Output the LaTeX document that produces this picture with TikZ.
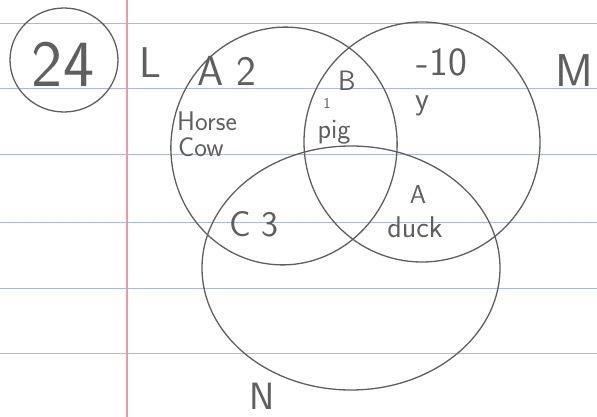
\documentclass[tikz,border=0pt]{standalone}
\usepackage{xcolor}
\usepackage{tikz}
\usetikzlibrary{shapes.geometric}

\definecolor{pencilgray}{RGB}{95,95,95}
\definecolor{ruleblue}{RGB}{170,185,228}
\definecolor{marginred}{RGB}{238,150,170}

\begin{document}
\begin{tikzpicture}[x=1pt, y=-1pt,
pencil/.style={draw=pencilgray, line width=1.3pt},
setring/.style={ellipse, pencil, inner sep=0pt},
hand/.style={text=pencilgray, inner sep=0pt},
]
\useasboundingbox[fill=white] (0,0) rectangle (597,417);
% ruled paper
\foreach \yy in {24,89,155,222,288,353}
  \draw[ruleblue, line width=1pt] (0,\yy) -- (597,\yy);
\draw[marginred, line width=1.2pt] (127,0) -- (127,417);

% problem number
\node[setring, minimum width=108pt, minimum height=104pt] (numring) at (64,60) {};
\node[hand, font=\sffamily\fontsize{66}{66}\selectfont] (num) at (63,64) {24};

% the three sets
\node[setring, minimum width=226pt, minimum height=238pt, rotate=-8] (setL) at (284,146) {};
\node[setring, minimum width=236pt, minimum height=240pt] (setM) at (422,142) {};
\node[setring, minimum width=298pt, minimum height=244pt] (setN) at (351,268) {};

\node[hand, font=\sffamily\fontsize{43}{43}\selectfont] (labL) at (150,63) {L};
\node[hand, font=\sffamily\fontsize{46}{46}\selectfont] (labM) at (574,71) {M};
\node[hand, font=\sffamily\fontsize{38}{38}\selectfont] (labN) at (262,396) {N};

% regions
\node[hand, font=\sffamily\fontsize{42}{42}\selectfont] (onlyL) at (227,71) {A 2};
\node[hand, font=\sffamily\fontsize{27}{27}\selectfont] (horse) at (207,121) {Horse};
\node[hand, font=\sffamily\fontsize{27}{27}\selectfont] (cow) at (201,147) {Cow};
\node[hand, font=\sffamily\fontsize{28}{28}\selectfont] (regB) at (347,81) {B};
\node[hand, font=\sffamily\fontsize{15}{15}\selectfont] (oneB) at (327,103) {1};
\node[hand, font=\sffamily\fontsize{28}{28}\selectfont] (pig) at (334,132) {pig};
\node[hand, font=\sffamily\fontsize{40}{40}\selectfont] (onlyM) at (442,62) {-10};
\node[hand, font=\sffamily\fontsize{32}{32}\selectfont] (yM) at (422,106) {y};
\node[hand, font=\sffamily\fontsize{36}{36}\selectfont] (regC) at (254,224) {C 3};
\node[hand, font=\sffamily\fontsize{26}{26}\selectfont] (regA) at (418,194) {A};
\node[hand, font=\sffamily\fontsize{30}{30}\selectfont] (duck) at (415,227) {duck};
\end{tikzpicture}
\end{document}
